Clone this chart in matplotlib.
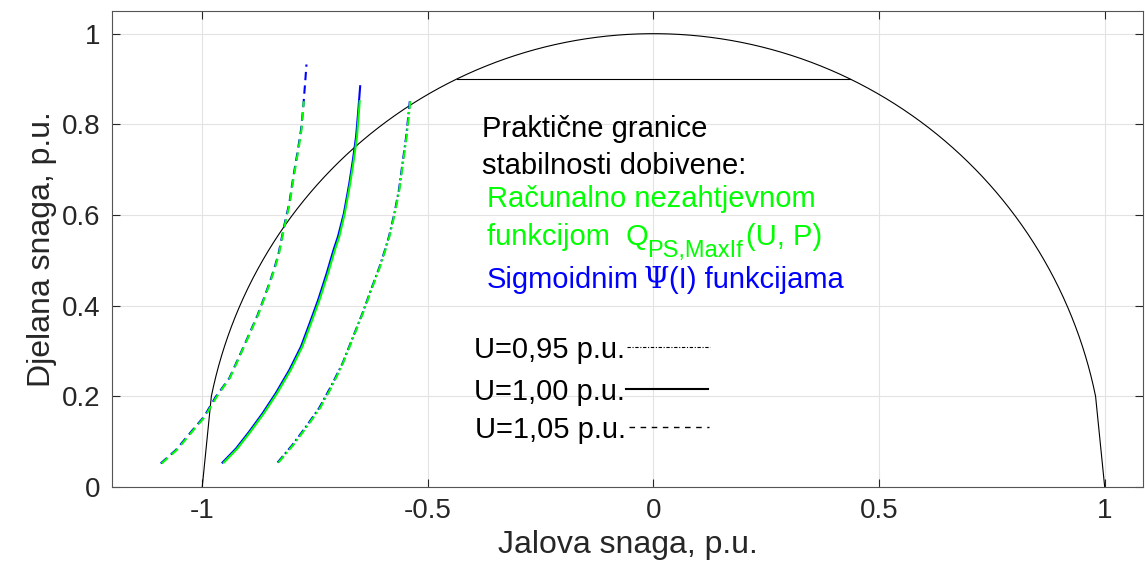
import numpy as np
import matplotlib
matplotlib.use('Agg')
import matplotlib.pyplot as plt

plt.rcParams['font.family'] = ['Liberation Sans', 'DejaVu Sans']

# granice stabilnosti (P - djelatna, Q - jalova snaga), ocitano sa slike
# U = 1,05 p.u.
P_105_sig = [0.052, 0.082, 0.126, 0.155, 0.199, 0.240, 0.288, 0.328, 0.380, 0.417, 0.450,
             0.483, 0.514, 0.578, 0.626, 0.685, 0.737, 0.788, 0.840, 0.891, 0.932]
Q_105_sig = [-1.092, -1.058, -1.021, -0.996, -0.970, -0.940, -0.918, -0.900, -0.877, -0.863, -0.851,
             -0.840, -0.831, -0.818, -0.807, -0.798, -0.789, -0.781, -0.776, -0.772, -0.769]
P_105_fun = [0.052, 0.082, 0.126, 0.155, 0.199, 0.240, 0.288, 0.328, 0.380, 0.417, 0.450,
             0.483, 0.514, 0.578, 0.626, 0.685, 0.737, 0.788, 0.851]
Q_105_fun = [-1.090, -1.056, -1.019, -0.994, -0.968, -0.939, -0.917, -0.899, -0.876, -0.862, -0.850,
             -0.839, -0.830, -0.817, -0.806, -0.797, -0.788, -0.780, -0.775]
# U = 1,00 p.u.
P_100_sig = [0.054, 0.085, 0.122, 0.163, 0.207, 0.258, 0.310, 0.361, 0.413, 0.472, 0.523,
             0.553, 0.604, 0.670, 0.722, 0.773, 0.832, 0.884]
Q_100_sig = [-0.955, -0.925, -0.896, -0.866, -0.837, -0.807, -0.781, -0.762, -0.743, -0.724, -0.709,
             -0.699, -0.686, -0.674, -0.666, -0.659, -0.654, -0.650]
P_100_fun = [0.054, 0.085, 0.122, 0.163, 0.207, 0.258, 0.310, 0.361, 0.413, 0.472, 0.523,
             0.553, 0.604, 0.670, 0.722, 0.773, 0.851]
Q_100_fun = [-0.952, -0.922, -0.893, -0.863, -0.834, -0.804, -0.778, -0.759, -0.740, -0.721, -0.706,
             -0.696, -0.684, -0.672, -0.664, -0.657, -0.651]
# U = 0,95 p.u.
P_095_sig = [0.054, 0.093, 0.133, 0.174, 0.221, 0.273, 0.328, 0.383, 0.435, 0.483, 0.523,
             0.553, 0.604, 0.656, 0.715, 0.773, 0.840, 0.851]
Q_095_sig = [-0.833, -0.800, -0.770, -0.741, -0.715, -0.689, -0.667, -0.645, -0.626, -0.608, -0.595,
             -0.586, -0.574, -0.564, -0.556, -0.548, -0.541, -0.540]
P_095_fun = P_095_sig
Q_095_fun = [-0.831, -0.798, -0.768, -0.739, -0.713, -0.688, -0.666, -0.644, -0.625, -0.607, -0.594,
             -0.585, -0.573, -0.563, -0.555, -0.547, -0.540, -0.539]

P_max = 0.9
x_ticks = [-1, -0.5, 0, 0.5, 1]
x_labels = ['-1', '-0.5', '0', '0.5', '1']
y_ticks = [0, 0.2, 0.4, 0.6, 0.8, 1]
y_labels = ['0', '0.2', '0.4', '0.6', '0.8', '1']

fig = plt.figure(figsize=(11.45, 5.7), dpi=100)
ax = fig.add_axes([0.0978, 0.1456, 0.9005, 0.8351])

# granica nazivne snage (jedinicna kruznica)
th = np.linspace(np.arcsin(0.2), np.pi / 2, 120)
P_c = np.r_[0, np.sin(th)]
Q_c = np.r_[1, np.cos(th)]
ax.plot(np.r_[Q_c, -Q_c[::-1]], np.r_[P_c, P_c[::-1]], color='k', lw=0.8)
q_lim = np.sqrt(1 - P_max ** 2)
ax.plot([-q_lim, q_lim], [P_max, P_max], color='k', lw=0.8)

ls_105 = (0, (4, 2.5))
ls_100 = '-'
ls_095 = (0, (4, 1.5, 1, 1.5))

for P, Q, ls in [(P_105_sig, Q_105_sig, ls_105), (P_100_sig, Q_100_sig, ls_100),
                 (P_095_sig, Q_095_sig, ls_095)]:
    ax.plot(Q, P, color='#0000ff', lw=1.5, linestyle=ls)
for P, Q, ls in [(P_105_fun, Q_105_fun, ls_105), (P_100_fun, Q_100_fun, ls_100),
                 (P_095_fun, Q_095_fun, ls_095)]:
    ax.plot(Q, P, color='#00ff00', lw=1.5, linestyle=ls)

# tekst
fs = 21
ax.text(-0.379, 0.773, 'Praktične granice', fontsize=fs, color='k')
ax.text(-0.379, 0.691, 'stabilnosti dobivene:', fontsize=fs, color='k')
ax.text(-0.370, 0.618, 'Računalno nezahtjevnom', fontsize=fs, color='#00ff00')
ax.text(-0.370, 0.534, 'funkcijom  Q', fontsize=fs, color='#00ff00')
ax.text(-0.013, 0.508, 'PS,MaxIf', fontsize=17, color='#00ff00')
ax.text(0.204, 0.534, '(U, P)', fontsize=fs, color='#00ff00')
ax.text(-0.369, 0.439, 'Sigmoidnim', fontsize=fs, color='#0000ff')
ax.text(-0.022, 0.439, 'Ψ', fontsize=fs, color='#0000ff', family='DejaVu Serif')
ax.text(0.035, 0.439, '(I) funkcijama', fontsize=fs, color='#0000ff')

# legenda
ax.text(-0.062, 0.285, 'U=0,95 p.u.', fontsize=fs, ha='right')
ax.text(-0.064, 0.192, 'U=1,00 p.u.', fontsize=fs, ha='right')
ax.text(-0.060, 0.108, 'U=1,05 p.u.', fontsize=fs, ha='right')
ax.plot([-0.058, 0.126], [0.309, 0.309], color='k', lw=0.8, linestyle=(0, (3, 1.5, 1, 1.5)))
ax.plot([-0.060, 0.120], [0.216, 0.216], color='k', lw=1.5)
ax.plot([-0.055, 0.124], [0.132, 0.132], color='k', lw=1.0, linestyle=(0, (4, 4)))

ax.set_xlim(-1.2, 1.085)
ax.set_ylim(0, 1.05)
ax.set_xticks(x_ticks)
ax.set_xticklabels(x_labels)
ax.set_yticks(y_ticks)
ax.set_yticklabels(y_labels)
ax.grid(True, color='#e3e3e3', lw=0.8)
ax.set_axisbelow(True)
ax.tick_params(direction='in', length=6, top=True, right=True, labelsize=20,
               colors='#262626', pad=8)
for s in ax.spines.values():
    s.set_color('#555555')
ax.set_xlabel('Jalova snaga, p.u.', fontsize=23, color='#262626')
ax.set_ylabel('Djelana snaga, p.u.', fontsize=23, color='#262626')

plt.savefig('out.png', dpi=100)
